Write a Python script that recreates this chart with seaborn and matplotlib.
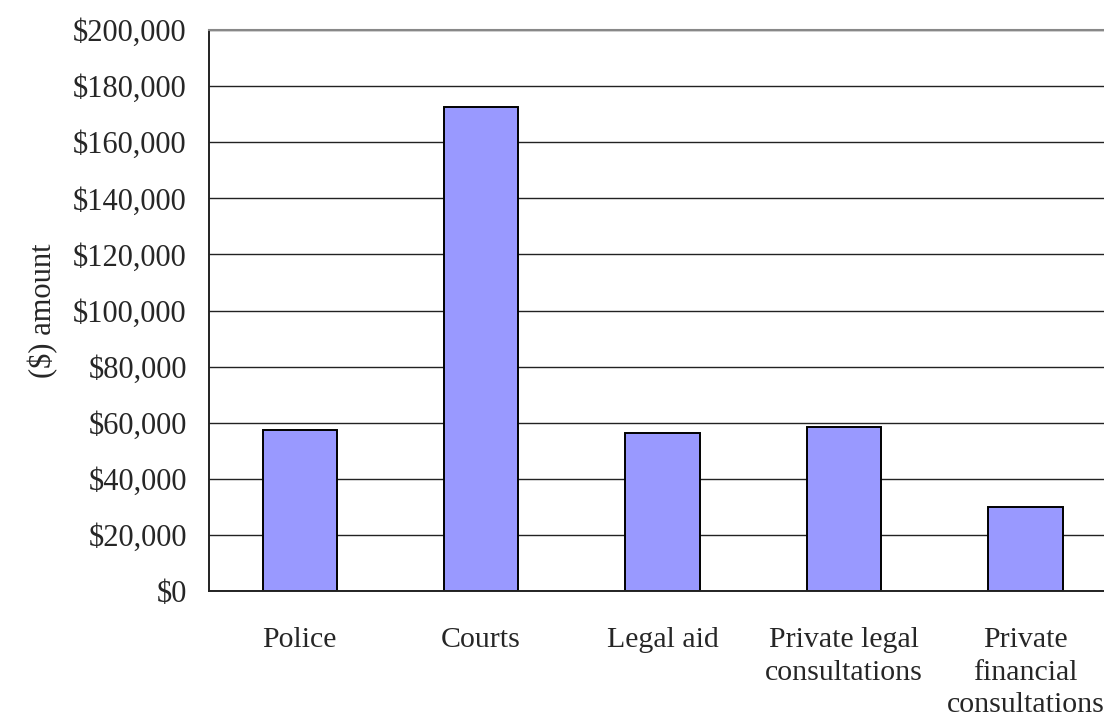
import matplotlib
matplotlib.use("Agg")
import matplotlib.pyplot as plt
import seaborn as sns
from matplotlib.ticker import FuncFormatter

# data
services = ["Police", "Courts", "Legal aid",
            "Private legal\nconsultations",
            "Private\nfinancial\nconsultations"]
amounts = [57400, 172500, 56300, 58500, 30000]
yticks = list(range(0, 200001, 20000))

sns.set_style("white")
plt.rcParams['font.family'] = ['Liberation Serif', 'DejaVu Serif']

fig = plt.figure(figsize=(11.04, 7.22), dpi=100)
ax = fig.add_axes([0.1893, 0.1814, 0.8216, 0.777])

sns.barplot(x=services, y=amounts, ax=ax, color="#9999FF",
            saturation=1, width=0.41, edgecolor="black", linewidth=1.4)

ax.set_ylim(0, 200000)
ax.set_yticks(yticks)
ax.yaxis.set_major_formatter(FuncFormatter(lambda v, p: "${:,.0f}".format(v)))
ax.set_axisbelow(True)
ax.yaxis.grid(True, color="#222222", linewidth=1.0)
ax.xaxis.grid(False)

ax.tick_params(axis="y", length=0, pad=16, labelsize=22)
ax.tick_params(axis="x", length=0, pad=26, labelsize=21.5)
for lbl in ax.get_xticklabels():
    lbl.set_linespacing(1.32)
ax.set_ylabel("($) amount", fontsize=22, labelpad=11)
ax.set_xlabel("")

for s in ["left", "bottom"]:
    ax.spines[s].set_color("#222222")
    ax.spines[s].set_linewidth(1.4)
ax.spines["top"].set_color("#888888")
ax.spines["top"].set_linewidth(1.5)
ax.spines["right"].set_visible(False)

fig.savefig("out.png", dpi=100)
